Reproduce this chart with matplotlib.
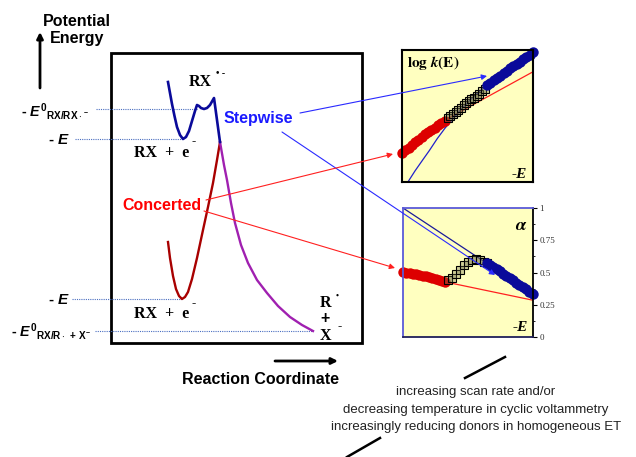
import matplotlib
matplotlib.use("Agg")
import matplotlib.pyplot as plt
from matplotlib.patches import Rectangle
from matplotlib.ticker import MultipleLocator

plt.rcParams['mathtext.fontset'] = 'custom'
plt.rcParams['mathtext.rm'] = 'Liberation Sans:bold'
plt.rcParams['mathtext.it'] = 'Liberation Sans:bold:italic'
plt.rcParams['mathtext.bf'] = 'Liberation Sans:bold'

W, H = 636, 457

# energy profiles (pixel units, y down)
step_x = [168, 170, 172, 174.5, 177, 180, 183, 186, 189, 192, 195, 197, 199, 201, 204, 207, 210, 214, 217, 220]
step_y = [82, 93, 104, 116, 127, 135, 139, 137, 131, 121, 111, 105, 106, 108, 109, 108, 105, 98, 120, 142]
conc_x = [168, 170, 173, 176, 179, 182, 185, 188, 192, 197, 203, 208, 213, 217, 220]
conc_y = [242, 258, 276, 289, 296, 299, 297, 292, 279, 258, 230, 207, 183, 160, 142]
prod_x = [220, 224, 227, 231, 235, 241, 248, 257, 267, 278, 290, 302, 313]
prod_y = [142, 165, 180, 203, 223, 245, 263, 280, 293, 306, 317, 325, 331]

# dotted energy levels
level_y = [109, 139, 299, 331]
level_x0 = [96, 75, 72, 95]
level_x1 = [198, 183, 182, 313]

# log k(E) panel (both axes 0..1)
kred_x = [0.0, 0.025, 0.05, 0.075, 0.10, 0.125, 0.15, 0.175, 0.20, 0.225, 0.25, 0.275, 0.30, 0.325]
kred_y = [0.22, 0.24, 0.26, 0.28, 0.30, 0.32, 0.34, 0.36, 0.38, 0.395, 0.41, 0.43, 0.45, 0.465]
ksq_x = [0.35, 0.37, 0.39, 0.41, 0.43, 0.45, 0.47, 0.49, 0.51, 0.53, 0.55, 0.57, 0.59, 0.61, 0.63]
ksq_y = [0.485, 0.50, 0.515, 0.53, 0.545, 0.56, 0.58, 0.595, 0.61, 0.625, 0.64, 0.655, 0.67, 0.69, 0.705]
kblue_x = [0.65, 0.675, 0.70, 0.725, 0.75, 0.775, 0.80, 0.825, 0.85, 0.875, 0.90, 0.925, 0.95, 0.975, 1.0]
kblue_y = [0.735, 0.75, 0.77, 0.79, 0.805, 0.825, 0.84, 0.86, 0.875, 0.895, 0.91, 0.93, 0.945, 0.965, 0.985]
kconc_x = [0.0, 0.33, 1.0]
kconc_y = [0.22, 0.47, 0.835]
kstep_x = [0.045, 0.10, 0.16, 0.21, 0.27, 0.33, 0.37, 0.45, 0.55, 0.65, 1.0]
kstep_y = [0.0, 0.085, 0.17, 0.24, 0.33, 0.41, 0.455, 0.55, 0.65, 0.735, 0.985]

# transfer coefficient panel
ared_x = [0.0, 0.025, 0.05, 0.075, 0.10, 0.125, 0.15, 0.175, 0.20, 0.225, 0.25, 0.275, 0.30, 0.32]
ared_y = [0.505, 0.50, 0.495, 0.49, 0.485, 0.48, 0.475, 0.47, 0.465, 0.46, 0.452, 0.445, 0.435, 0.428]
asq_x = [0.346, 0.377, 0.408, 0.438, 0.469, 0.50, 0.53, 0.56, 0.59, 0.62, 0.646]
asq_y = [0.44, 0.46, 0.49, 0.52, 0.555, 0.58, 0.60, 0.605, 0.60, 0.585, 0.575]
ablue_x = [0.646, 0.67, 0.695, 0.72, 0.745, 0.77, 0.795, 0.82, 0.845, 0.87, 0.895, 0.92, 0.945, 0.97, 1.0]
ablue_y = [0.575, 0.56, 0.545, 0.525, 0.51, 0.49, 0.475, 0.455, 0.44, 0.42, 0.405, 0.385, 0.37, 0.35, 0.335]
aconc_x = [0.32, 1.0]
aconc_y = [0.428, 0.285]
astep_x = [0.0, 1.0]
astep_y = [1.0, 0.335]
alpha_ticks = [0, 0.25, 0.5, 0.75, 1]
alpha_labels = ['0', '0.25', '0.5', '0.75', '1']

footer = ['increasing scan rate and/or',
          'decreasing temperature in cyclic voltammetry',
          'increasingly reducing donors in homogeneous ET']

fig = plt.figure(figsize=(W / 100, H / 100), dpi=100)

sans = 'Liberation Sans'
serif = 'Liberation Serif'
sq_style = dict(marker='s', ls='none', mfc=(0.45, 0.45, 0.3, 0.35), mec='black', ms=6, mew=0.8)
dot = 7.5

# log k panel
pk = fig.add_axes([402 / W, 1 - 182 / H, 131 / W, 132 / H])
pk.set_facecolor('#ffffc0')
pk.set_xlim(0, 1)
pk.set_ylim(0, 1)
pk.set_xticks([])
pk.set_yticks([])
for s in pk.spines.values():
    s.set_linewidth(1.5)
pk.plot(kconc_x, kconc_y, color='#ff2020', lw=0.9)
pk.plot(kstep_x, kstep_y, color='#2020cc', lw=0.9)
pk.plot(kred_x, kred_y, 'o', color='#dd0000', ms=dot, mec='none', clip_on=False)
pk.plot(ksq_x, ksq_y, **sq_style)
pk.plot(kblue_x, kblue_y, 'o', color='#0a0a9a', ms=dot, mec='none', clip_on=False)
pk.text(0.04, 0.9, r'$\mathbf{log}\ \mathbfit{k}\mathbf{(E)}$', transform=pk.transAxes,
        math_fontfamily='stix', fontsize=11, va='center')
pk.text(0.95, 0.06, '-E', transform=pk.transAxes, family=serif, weight='bold',
        style='italic', fontsize=11, ha='right', va='center')

# alpha panel
pa = fig.add_axes([403 / W, 1 - 337 / H, 130 / W, 129 / H])
pa.set_facecolor('#ffffc0')
pa.set_xlim(0, 1)
pa.set_ylim(0, 1)
pa.set_xticks([])
pa.yaxis.tick_right()
pa.set_yticks(alpha_ticks)
pa.set_yticklabels(alpha_labels, fontfamily=serif, fontsize=6.5, color='#333333')
pa.yaxis.set_minor_locator(MultipleLocator(0.125))
pa.tick_params(axis='y', which='major', length=3, width=0.8, pad=1.5)
pa.tick_params(axis='y', which='minor', length=1.5, width=0.6)
pa.spines['left'].set_color('#5a5ad8')
pa.spines['top'].set_color('#5a5ad8')
pa.spines['bottom'].set_color('#20205a')
pa.spines['right'].set_color('black')
for s in pa.spines.values():
    s.set_linewidth(1.3)
pa.plot(aconc_x, aconc_y, color='#ff2020', lw=0.9)
pa.plot(astep_x, astep_y, color='#1a1a99', lw=0.9)
pa.plot(ared_x, ared_y, 'o', color='#dd0000', ms=dot, mec='none', clip_on=False)
pa.plot(asq_x, asq_y, **sq_style)
pa.plot(ablue_x, ablue_y, 'o', color='#0a0a9a', ms=dot, mec='none', clip_on=False)
pa.text(0.96, 0.87, r'$\mathbfit{\alpha}$', transform=pa.transAxes,
        math_fontfamily='stix', fontsize=13, ha='right', va='center')
pa.text(0.96, 0.07, '-E', transform=pa.transAxes, family=serif, weight='bold',
        style='italic', fontsize=11, ha='right', va='center')

# overlay in picture pixels
ax = fig.add_axes([0, 0, 1, 1])
ax.set_xlim(0, W)
ax.set_ylim(H, 0)
ax.axis('off')

ax.add_patch(Rectangle((111, 53), 251, 290, fill=False, lw=2, ec='black'))
for y, x0, x1 in zip(level_y, level_x0, level_x1):
    ax.plot([x0, x1], [y, y], ls=(0, (1, 1)), color='#4a6ec0', lw=0.8)
ax.plot(conc_x, conc_y, color='#a80000', lw=1.7)
ax.plot(prod_x, prod_y, color='#a020b0', lw=1.7)
ax.plot(step_x, step_y, color='#0a0a9a', lw=1.9)

ax.text(77, 30, 'Potential\nEnergy', family=sans, weight='bold', fontsize=11.5,
        ha='center', va='center', linespacing=1.1)
ax.annotate('', xy=(40, 32), xytext=(40, 88),
            arrowprops=dict(arrowstyle='-|>', color='black', lw=2, mutation_scale=9,
                            shrinkA=0, shrinkB=0))

ax.text(89, 111, r'- $E^{0}{}_{\mathrm{RX/RX}\cdot^{-}}$', family=sans, weight='bold',
        fontsize=10.3, ha='right', va='center')
ax.text(70, 140, r'- $E$', family=sans, weight='bold', fontsize=11, ha='right', va='center')
ax.text(70, 300, r'- $E$', family=sans, weight='bold', fontsize=11, ha='right', va='center')
ax.text(91, 332, r'- $E^{0}{}_{\mathrm{RX/R}\cdot\mathrm{\,+\,X}^{-}}$', family=sans, weight='bold',
        fontsize=10.3, ha='right', va='center')

ax.text(189, 82, 'RX', family=serif, weight='bold', fontsize=11.5, va='center')
ax.text(216, 74, '\u2022 -', family=serif, weight='bold', fontsize=7, va='center')
ax.text(134, 153, 'RX  +  e', family=serif, weight='bold', fontsize=11.5, va='center')
ax.text(192, 141, '-', family=serif, weight='bold', fontsize=9, va='center')
ax.text(134, 314, 'RX  +  e', family=serif, weight='bold', fontsize=11.5, va='center')
ax.text(192, 303, '-', family=serif, weight='bold', fontsize=9, va='center')
ax.text(325, 303, 'R', family=serif, weight='bold', fontsize=11.5, ha='center', va='center')
ax.text(337, 296, '\u2022', family=serif, weight='bold', fontsize=6, ha='center', va='center')
ax.text(325, 318, '+', family=sans, weight='bold', fontsize=11.5, ha='center', va='center')
ax.text(325, 336, 'X', family=serif, weight='bold', fontsize=11.5, ha='center', va='center')
ax.text(340, 326, '-', family=serif, weight='bold', fontsize=9, ha='center', va='center')

ax.text(258, 119, 'Stepwise', family=sans, weight='bold', fontsize=11.5, color='#1a1aff',
        ha='center', va='center')
ax.text(162, 205, 'Concerted', family=sans, weight='bold', fontsize=11.5, color='#ff0000',
        ha='center', va='center')

arrows = [((300, 113), (487, 76), '#2a2aff'),
          ((282, 132), (495, 275), '#2a2aff'),
          ((206, 200), (393, 154), '#ff2020'),
          ((204, 211), (395, 268), '#ff2020')]
for start, end, col in arrows:
    ax.annotate('', xy=end, xytext=start,
                arrowprops=dict(arrowstyle='-|>', color=col, lw=0.8, mutation_scale=8,
                                shrinkA=0, shrinkB=0))

ax.annotate('', xy=(338, 361), xytext=(275, 361),
            arrowprops=dict(arrowstyle='-|>', color='black', lw=2, mutation_scale=9,
                            shrinkA=0, shrinkB=0))
ax.text(260, 380, 'Reaction Coordinate', family=sans, weight='bold', fontsize=11.5,
        ha='center', va='center')

ax.plot([465, 505], [378, 357], color='black', lw=1.8)
ax.plot([347, 380], [457, 438], color='black', lw=1.8)
for i, line in enumerate(footer):
    ax.text(476, 392 + 17.5 * i, line, family=sans, fontsize=9.5, color='#222222',
            ha='center', va='center')

fig.savefig('out.png', dpi=100)
